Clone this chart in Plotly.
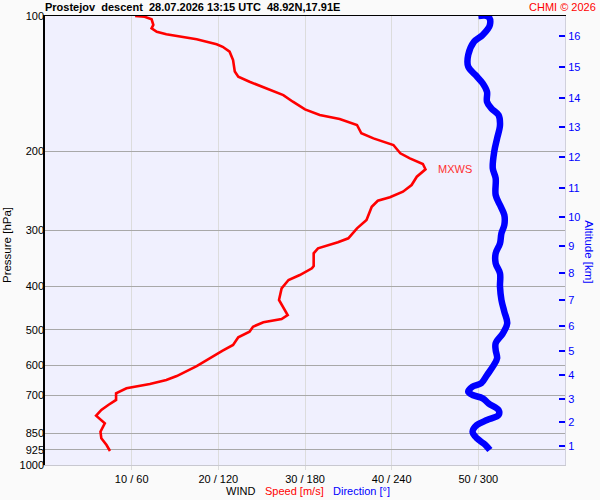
import numpy as np
import plotly.graph_objects as go

# ---------------- data ----------------
speed_p = [100, 100.4, 101.7, 104.7, 106.5, 108.4, 109.8, 111.2, 112.7, 115.6,
           117.1, 120.1, 125.3, 133.0, 136.5, 140.1, 144.9, 150.0, 155.2, 161.4,
           166.2, 169.6, 174.9, 182.5, 187.3, 193.8, 202.2, 207.5, 213.6, 219.5,
           228.0, 237.9, 246.2, 253.4, 257.9, 266.0, 284.7, 297.1, 312.7, 319.2,
           329.2, 337.7, 349.5, 360.5, 364.8, 377.5, 387.3, 404.2, 429.0, 447.7,
           463.4, 473.0, 481.1, 492.0, 504.8, 519.5, 540.4, 556.4, 578.5, 602.0,
           633.7, 646.8, 660.2, 674.9, 692.4, 716.4, 735.1, 754.2, 776.6, 807.5,
           843.1, 872.1, 902.7, 930.8]
speed = [10.4, 11.5, 12.3, 12.5, 12.3, 12.9, 14.0, 15.5, 17.5, 19.8,
         20.5, 21.3, 21.7, 21.9, 22.3, 23.6, 25.6, 27.5, 28.6, 30.0,
         31.7, 34.0, 36.0, 36.5, 37.9, 40.2, 41.0, 42.1, 43.6, 43.9,
         42.9, 42.3, 41.3, 39.8, 38.4, 37.7, 37.1, 36.0, 35.0, 33.8,
         31.5, 31.0, 31.0, 31.0, 30.8, 29.4, 28.1, 27.3, 27.0, 27.5,
         28.0, 27.3, 25.2, 24.0, 23.6, 22.3, 21.7, 20.5, 19.0, 17.5,
         15.2, 14.0, 12.1, 9.4, 8.2, 8.2, 7.3, 6.5, 5.9, 6.9,
         6.4, 6.5, 7.1, 7.5]

dir_p = [100, 100.4, 104.7, 110.2, 114.1, 122.1, 129.7, 135.3, 141.2, 147.5,
         155.2, 160.6, 166.2, 174.9, 187.3, 200.5, 218.4, 229.8, 250.4, 263.7,
         277.5, 292.1, 304.8, 320.8, 337.7, 355.5, 374.2, 400.8, 429.0, 455.6,
         483.6, 508.9, 535.8, 554.5, 578.6, 604.0, 630.5, 657.7, 669.3, 686.6,
         698.4, 710.3, 728.8, 754.2, 773.8, 794.0, 814.6, 843.1, 872.1, 902.7,
         926.1]
direction = [300, 307, 308, 303, 297, 293, 293, 298, 303, 306,
             306, 309, 314, 315, 313, 311, 310, 312, 312, 315,
             318, 318, 316, 315, 312, 312, 315, 315, 316, 318,
             320, 317, 312, 312, 313, 310, 306, 302, 296, 293,
             296, 303, 307, 314, 314, 306, 299, 296, 299, 305,
             308]

pressure_ticks = [100, 200, 300, 400, 500, 600, 700, 850, 925, 1000]
wind_ticks = [10, 20, 30, 40, 50]
wind_labels = ["10 / 60", "20 / 120", "30 / 180", "40 / 240", "50 / 300"]
alt_km = [1, 2, 3, 4, 5, 6, 7, 8, 9, 10, 11, 12, 13, 14, 15, 16]
alt_p = [907, 802, 713, 631, 558, 490, 429, 374, 325, 280, 242, 206, 177, 152, 130, 111]

title_text = "Prostejov\u00a0\u00a0descent\u00a0\u00a028.07.2026 13:15 UTC\u00a0\u00a048.92N,17.91E"

FONT = "Liberation Sans, Arial, sans-serif"

# ---------------- figure ----------------
fig = go.Figure()
fig.add_trace(go.Scatter(x=direction, y=dir_p, mode="lines", xaxis="x2", yaxis="y",
                         line=dict(color="#0000ff", width=6.5, shape="spline"),
                         hoverinfo="skip", showlegend=False))
fig.add_trace(go.Scatter(x=speed, y=speed_p, mode="lines", xaxis="x", yaxis="y",
                         line=dict(color="#ff0000", width=2.6),
                         hoverinfo="skip", showlegend=False))
# invisible trace to activate altitude axis
fig.add_trace(go.Scatter(x=[None], y=[None], xaxis="x", yaxis="y2", showlegend=False))

imax = int(np.argmax(speed))
smax = speed[imax]
pmax = speed_p[imax]
lp = float(np.log10(pmax))

shapes = [
    dict(type="line", xref="x", yref="y", x0=smax - 0.5, x1=smax + 0.8, y0=lp, y1=lp,
         line=dict(color="#ff0000", width=1)),
    dict(type="line", xref="paper", yref="y", x0=-0.004, x1=0.021, y0=lp, y1=lp,
         line=dict(color="#e00000", width=1)),
    dict(type="line", xref="paper", yref="y", x0=0.98, x1=1.006, y0=lp, y1=lp,
         line=dict(color="#e00000", width=1)),
]

annotations = [
    dict(text="MXWS", x=smax + 1.2, y=lp, xref="x", yref="y", xanchor="left",
         yanchor="middle", showarrow=False, font=dict(color="#ff3030", size=11, family=FONT)),
    dict(text="<b>" + title_text + "</b>", x=-0.004, y=1.02, xref="paper", yref="paper",
         xanchor="left", yanchor="middle", showarrow=False,
         font=dict(color="#000000", size=11, family=FONT)),
    dict(text="CHMI \u00a9 2026", x=1.0635, y=1.02, xref="paper", yref="paper",
         xanchor="right", yanchor="middle", showarrow=False,
         font=dict(color="#ff0000", size=11, family=FONT)),
    dict(text="Pressure [hPa]", x=-0.073, y=0.49, xref="paper", yref="paper",
         xanchor="center", yanchor="middle", textangle=-90, showarrow=False,
         font=dict(color="#000000", size=11.5, family=FONT)),
    dict(text="Altitude [km]", x=1.046, y=0.474, xref="paper", yref="paper",
         xanchor="center", yanchor="middle", textangle=90, showarrow=False,
         font=dict(color="#0000ff", size=11.5, family=FONT)),
    dict(text="WIND", x=0.3445, y=-0.058, xref="paper", yref="paper",
         xanchor="left", yanchor="middle", showarrow=False,
         font=dict(color="#000000", size=11, family=FONT)),
    dict(text="Speed [m/s]", x=0.4187, y=-0.058, xref="paper", yref="paper",
         xanchor="left", yanchor="middle", showarrow=False,
         font=dict(color="#ff0000", size=11, family=FONT)),
    dict(text="Direction [\u00b0]", x=0.5495, y=-0.058, xref="paper", yref="paper",
         xanchor="left", yanchor="middle", showarrow=False,
         font=dict(color="#0000ff", size=11, family=FONT)),
]

fig.update_layout(
    width=600, height=500,
    margin=dict(l=45, r=35, t=16, b=35, autoexpand=False),
    paper_bgcolor="#fafafa",
    plot_bgcolor="#f0f0fe",
    font=dict(family=FONT, size=11, color="#000000"),
    showlegend=False,
    shapes=shapes,
    annotations=annotations,
    xaxis=dict(range=[0, 60], tickvals=wind_ticks, ticktext=wind_labels,
               showgrid=True, gridcolor="#dcdcdc", gridwidth=1,
               ticks="outside", ticklen=4, tickcolor="#dcdcdc",
               showline=True, linecolor="#c8c8d0", zeroline=False, automargin=False,
               tickfont=dict(size=11, color="#000000")),
    xaxis2=dict(range=[0, 360], overlaying="x", side="top", showgrid=False,
                showticklabels=False, ticks="", showline=True, linecolor="#000000",
                linewidth=1, zeroline=False, automargin=False),
    yaxis=dict(type="log", range=[3, 2], tickvals=pressure_ticks,
               ticktext=[str(v) for v in pressure_ticks],
               showgrid=True, gridcolor="#a8a8a8", gridwidth=1,
               showline=True, linecolor="#000000", linewidth=1.5, ticks="",
               zeroline=False, automargin=False, ticklabelstandoff=-3,
               tickfont=dict(size=11, color="#000000")),
    yaxis2=dict(type="log", range=[3, 2], overlaying="y", side="right",
                tickvals=alt_p, ticktext=[str(v) for v in alt_km],
                ticks="inside", ticklen=6, tickcolor="#0000ff", tickwidth=1.5,
                showgrid=False, showline=True, linecolor="#d0d0dc", zeroline=False,
                automargin=False, tickfont=dict(size=11, color="#0000ff")),
)

fig.write_html("out.html", config={"displayModeBar": False},
               post_script="document.body.style.margin='0';document.body.style.padding='0';document.body.style.overflow='hidden';")
